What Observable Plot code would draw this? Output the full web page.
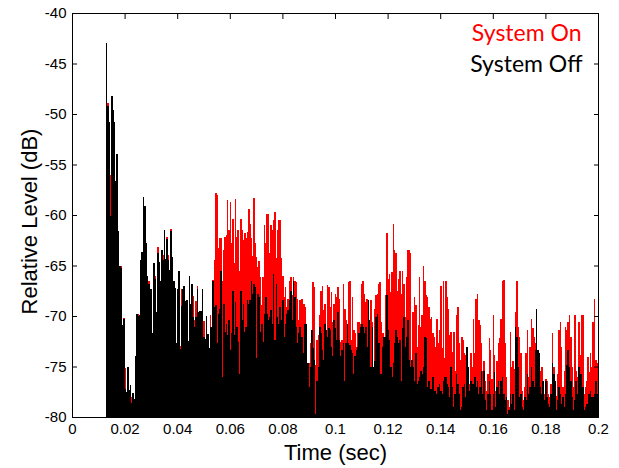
<!DOCTYPE html>
<html><head><meta charset="utf-8">
<script src="https://cdn.jsdelivr.net/npm/d3@7"></script>
<script src="https://cdn.jsdelivr.net/npm/@observablehq/plot@0.6"></script>
<style>body{margin:0;background:#fff}</style>
</head><body><div id="chart"></div>
<script>
// sample times: t = startTime + i * sampleStep
const startTime = 0.013;
const sampleStep = 0.0005;

// Peak level per sample (dB), System Off (black)
const systemOff = [
-43.0,-49.2,-50.8,-60.1,-48.2,-49.6,-50.8,-56.6,-54.0,-61.6,
-65.0,-65.2,-70.9,-70.3,-77.2,-77.5,-75.0,-77.3,-76.8,-78.6,
-77.6,-78.2,-74.0,-69.8,-70.0,-69.9,-64.5,-63.7,-58.2,-59.1,
-62.8,-66.0,-66.8,-67.3,-67.3,-71.7,-64.8,-66.3,-69.6,-63.8,
-64.7,-66.5,-63.5,-64.5,-61.5,-64.4,-62.4,-64.5,-65.4,-61.6,
-64.2,-66.5,-67.2,-72.7,-67.3,-65.5,-73.3,-69.0,-67.3,-67.0,
-68.5,-68.4,-72.5,-66.0,-68.8,-66.8,-70.1,-71.1,-70.1,-67.3,
-69.6,-69.5,-69.5,-67.3,-72.1,-72.3,-70.0,-71.8,-73.2,-71.1,
-71.1,-66.5,-69.1,-68.9,-72.7,-69.8,-69.3,-65.5,-76.0,-68.8,
-71.6,-70.8,-71.9,-70.4,-73.4,-71.7,-67.5,-71.9,-68.6,-71.1,
-72.6,-75.7,-67.5,-70.4,-68.8,-71.6,-71.1,-68.4,-68.8,-68.4,
-66.5,-67.8,-66.8,-67.1,-74.2,-67.8,-68.1,-71.6,-70.8,-72.6,
-69.8,-68.1,-69.8,-70.4,-70.1,-69.4,-70.8,-65.8,-72.4,-66.8,
-70.1,-70.8,-69.1,-70.4,-68.4,-72.1,-70.8,-69.8,-69.4,-68.4,
-67.5,-70.4,-66.5,-68.1,-71.1,-72.7,-71.7,-71.1,-72.1,-72.1,
-73.7,-70.8,-70.8,-74.7,-77.0,-75.0,-71.4,-73.2,-74.4,-79.7,
-76.4,-75.0,-71.1,-71.7,-73.4,-74.4,-70.8,-71.4,-72.1,-71.2,
-71.4,-73.1,-74.0,-70.4,-71.2,-72.4,-69.6,-72.4,-74.0,-73.4,
-72.7,-76.4,-72.7,-70.8,-72.7,-72.9,-73.4,-73.7,-75.7,-74.0,
-73.4,-73.1,-71.7,-71.1,-70.8,-71.1,-71.7,-71.1,-73.1,-68.4,
-70.4,-75.0,-71.1,-75.0,-74.5,-70.1,-69.8,-72.7,-75.7,-75.7,
-73.1,-72.1,-72.1,-67.9,-71.4,-72.4,-75.0,-76.0,-74.7,-72.7,
-71.4,-72.1,-72.7,-72.4,-76.4,-71.2,-70.1,-73.1,-72.1,-70.4,
-74.4,-75.0,-74.4,-75.0,-76.4,-73.7,-76.7,-76.4,-76.0,-75.4,
-75.7,-75.0,-72.1,-72.2,-77.0,-76.4,-77.2,-77.2,-76.0,-77.4,
-77.4,-77.7,-77.0,-76.7,-77.4,-77.7,-76.4,-76.0,-76.0,-76.7,
-77.0,-78.0,-75.0,-77.0,-79.0,-77.7,-75.7,-76.7,-77.7,-79.3,
-79.0,-77.0,-76.7,-78.0,-73.1,-75.0,-77.4,-76.4,-76.7,-76.7,
-76.0,-77.0,-76.4,-77.7,-77.0,-75.4,-77.7,-75.4,-78.3,-79.3,
-77.7,-76.4,-77.7,-79.3,-77.7,-75.5,-79.0,-77.0,-76.4,-77.7,
-76.4,-76.0,-77.7,-78.3,-78.0,-79.7,-79.3,-77.7,-78.7,-77.7,
-79.3,-71.1,-72.1,-75.0,-78.0,-77.7,-79.0,-79.3,-78.0,-78.3,
-75.7,-77.7,-77.0,-75.0,-76.4,-77.0,-73.4,-69.3,-73.4,-73.7,
-77.0,-77.7,-76.4,-78.3,-76.4,-78.0,-78.7,-79.0,-77.7,-74.7,
-75.7,-76.4,-79.3,-78.3,-77.0,-77.7,-78.7,-78.0,-79.0,-77.7,
-74.9,-73.4,-75.0,-76.4,-78.0,-79.3,-78.3,-76.4,-77.7,-75.0,
-75.7,-75.7,-77.0,-79.3,-79.0,-78.7,-78.7,-77.7,-77.4,-78.0,
-78.0,-77.7,-76.4,-77.7
];

// Peak level per sample (dB), System On (red)
const systemOn = [
-49.0,-48.9,-51.5,-56.0,-50.5,-50.6,-56.7,-58.0,-55.0,-63.0,
-66.0,-65.0,-71.0,-70.2,-75.1,-78.0,-76.0,-78.5,-77.0,-78.0,
-78.5,-79.0,-75.0,-71.0,-69.8,-71.0,-66.0,-64.0,-60.0,-60.5,
-63.8,-67.5,-66.5,-68.5,-70.0,-73.0,-65.0,-66.0,-70.0,-63.2,
-65.5,-66.5,-63.8,-64.0,-62.5,-66.0,-62.2,-64.0,-66.5,-61.4,
-65.5,-67.8,-68.0,-73.5,-67.5,-66.4,-73.0,-67.3,-67.5,-67.8,
-69.0,-70.5,-73.0,-66.7,-70.0,-67.5,-68.0,-70.4,-68.5,-67.0,
-70.0,-73.0,-75.0,-68.0,-70.5,-72.6,-71.0,-72.5,-74.0,-69.9,
-71.1,-66.4,-64.5,-57.8,-58.0,-63.3,-62.3,-62.3,-66.5,-63.5,
-62.2,-62.0,-58.5,-61.5,-58.7,-62.8,-60.4,-64.8,-58.4,-62.2,
-61.5,-65.5,-60.4,-61.5,-62.5,-61.8,-62.3,-61.7,-59.4,-60.9,
-62.3,-64.1,-58.3,-62.8,-64.2,-65.1,-64.6,-66.1,-68.9,-66.1,
-61.0,-62.8,-59.9,-59.9,-63.8,-61.0,-61.5,-60.5,-59.7,-64.3,
-61.5,-60.5,-60.5,-64.3,-66.0,-68.1,-67.1,-69.1,-68.3,-66.5,
-66.1,-67.9,-66.1,-66.5,-66.6,-68.3,-70.4,-68.4,-68.3,-68.3,
-68.8,-69.1,-71.6,-74.7,-74.7,-72.7,-72.7,-66.6,-67.1,-74.9,
-72.4,-71.9,-69.9,-67.5,-67.0,-69.4,-68.8,-71.9,-66.9,-67.1,
-69.1,-67.6,-70.6,-68.8,-67.8,-68.1,-67.1,-68.3,-72.6,-72.4,
-66.8,-69.3,-70.4,-71.7,-66.6,-66.5,-72.4,-68.1,-71.4,-71.7,
-73.1,-70.6,-70.6,-70.8,-66.8,-66.5,-67.8,-68.6,-68.3,-70.1,
-70.4,-68.4,-70.6,-75.0,-69.3,-67.9,-67.8,-66.8,-66.6,-70.6,
-71.7,-72.4,-67.9,-61.8,-66.3,-65.8,-67.6,-65.6,-60.9,-63.5,
-63.8,-67.5,-66.3,-65.5,-67.8,-65.5,-66.8,-70.1,-66.1,-63.5,
-63.5,-63.8,-74.4,-69.6,-68.1,-68.9,-73.1,-70.9,-66.1,-71.1,
-69.9,-65.0,-66.5,-67.9,-68.1,-69.1,-70.3,-70.1,-71.7,-72.1,
-73.1,-70.3,-72.7,-71.4,-67.0,-73.2,-66.5,-74.2,-66.5,-68.1,
-69.3,-71.9,-71.6,-73.6,-71.6,-75.4,-69.9,-69.1,-72.7,-74.4,
-72.1,-72.4,-73.7,-73.9,-74.4,-75.0,-76.7,-73.7,-75.0,-70.3,
-73.7,-68.3,-67.8,-70.4,-70.9,-72.7,-75.4,-74.5,-76.4,-77.4,
-75.7,-72.2,-73.4,-76.2,-69.9,-73.9,-77.4,-74.5,-72.7,-72.2,
-70.3,-66.5,-66.4,-72.7,-76.0,-78.3,-79.0,-71.6,-75.0,-74.5,
-75.2,-69.6,-66.5,-71.1,-72.1,-73.7,-77.4,-78.3,-77.0,-73.7,
-71.4,-76.0,-73.1,-70.3,-71.2,-72.1,-72.7,-76.0,-73.7,-74.5,
-75.4,-75.0,-77.0,-77.7,-76.2,-76.4,-77.7,-78.0,-76.7,-71.7,
-75.0,-77.0,-77.9,-75.7,-71.4,-70.6,-73.1,-77.0,-75.4,-71.1,
-71.4,-70.6,-69.9,-72.1,-75.0,-77.0,-69.9,-75.4,-76.0,-70.6,
-73.9,-69.9,-69.9,-77.7,-77.0,-76.4,-74.1,-75.5,-73.7,-75.0,
-70.6,-68.3,-74.4,-74.7
];

const seriesNames = ["System On", "System Off"];
const xTicks = [0, 0.02, 0.04, 0.06, 0.08, 0.1, 0.12, 0.14, 0.16, 0.18, 0.2];
const xTickLabels = ["0", "0.02", "0.04", "0.06", "0.08", "0.1", "0.12", "0.14", "0.16", "0.18", "0.2"];
const yTicks = [-80, -75, -70, -65, -60, -55, -50, -45, -40];
const yTickLabels = ["-80", "-75", "-70", "-65", "-60", "-55", "-50", "-45", "-40"];
const xLabel = "Time (sec)";
const yLabel = "Relative Level (dB)";
const xDomain = [0, 0.2];
const yDomain = [-80, -40];

const rows = (vals) => vals.map((v, i) => ({t: startTime + i * sampleStep, v}));
const onRows = rows(systemOn);
const offRows = rows(systemOff);

const tickFont = "'Liberation Sans', Arial, sans-serif";
const legendFont = "Lato, 'Open Sans', sans-serif";

const chart = Plot.plot({
  width: 619,
  height: 468,
  marginLeft: 72,
  marginRight: 21,
  marginTop: 13,
  marginBottom: 51,
  x: {domain: xDomain},
  y: {domain: yDomain},
  style: {fontFamily: tickFont, fontSize: "15px", color: "black", background: "white", overflow: "visible"},
  marks: [
    Plot.ruleX(onRows, {x: "t", y1: yDomain[0], y2: "v", stroke: "#ff0000", strokeWidth: 1.6, shapeRendering: "crispEdges"}),
    Plot.ruleX(offRows, {x: "t", y1: yDomain[0], y2: "v", stroke: "#000000", strokeWidth: 1.6, shapeRendering: "crispEdges"}),
    Plot.frame({stroke: "black", strokeWidth: 1}),
    Plot.axisX({anchor: "bottom", ticks: xTicks, tickSize: 0, tickPadding: 6, label: null, fontSize: 15,
      tickFormat: d => xTickLabels[xTicks.indexOf(d)]}),
    Plot.axisX({anchor: "bottom", ticks: xTicks, tickSize: -5, label: null, tickFormat: () => ""}),
    Plot.axisX({anchor: "top", ticks: xTicks, tickSize: -5, label: null, tickFormat: () => ""}),
    Plot.axisY({anchor: "left", ticks: yTicks, tickSize: 0, tickPadding: 6, label: null, fontSize: 15,
      tickFormat: d => yTickLabels[yTicks.indexOf(d)]}),
    Plot.axisY({anchor: "left", ticks: yTicks, tickSize: -5, label: null, tickFormat: () => ""}),
    Plot.axisY({anchor: "right", ticks: yTicks, tickSize: -5, label: null, tickFormat: () => ""}),
    Plot.text([xLabel], {text: d => d, frameAnchor: "bottom", textAnchor: "middle", lineAnchor: "middle", dy: 35, fontSize: 22, fontFamily: tickFont, fill: "black"}),
    Plot.text([yLabel], {text: d => d, frameAnchor: "left", textAnchor: "middle", lineAnchor: "middle", dx: -43, dy: 6, rotate: -90, fontSize: 22, fontFamily: tickFont, fill: "black"}),
    Plot.text([seriesNames[0]], {text: d => d, frameAnchor: "top-right", textAnchor: "end", lineAnchor: "middle", dx: -17, dy: 20, fontSize: 23, fontFamily: legendFont, fill: "#ff0000"}),
    Plot.text([seriesNames[1]], {text: d => d, frameAnchor: "top-right", textAnchor: "end", lineAnchor: "middle", dx: -16, dy: 51, fontSize: 23, fontFamily: legendFont, fill: "#000000"})
  ]
});
document.getElementById("chart").append(chart);
</script>
</body></html>
